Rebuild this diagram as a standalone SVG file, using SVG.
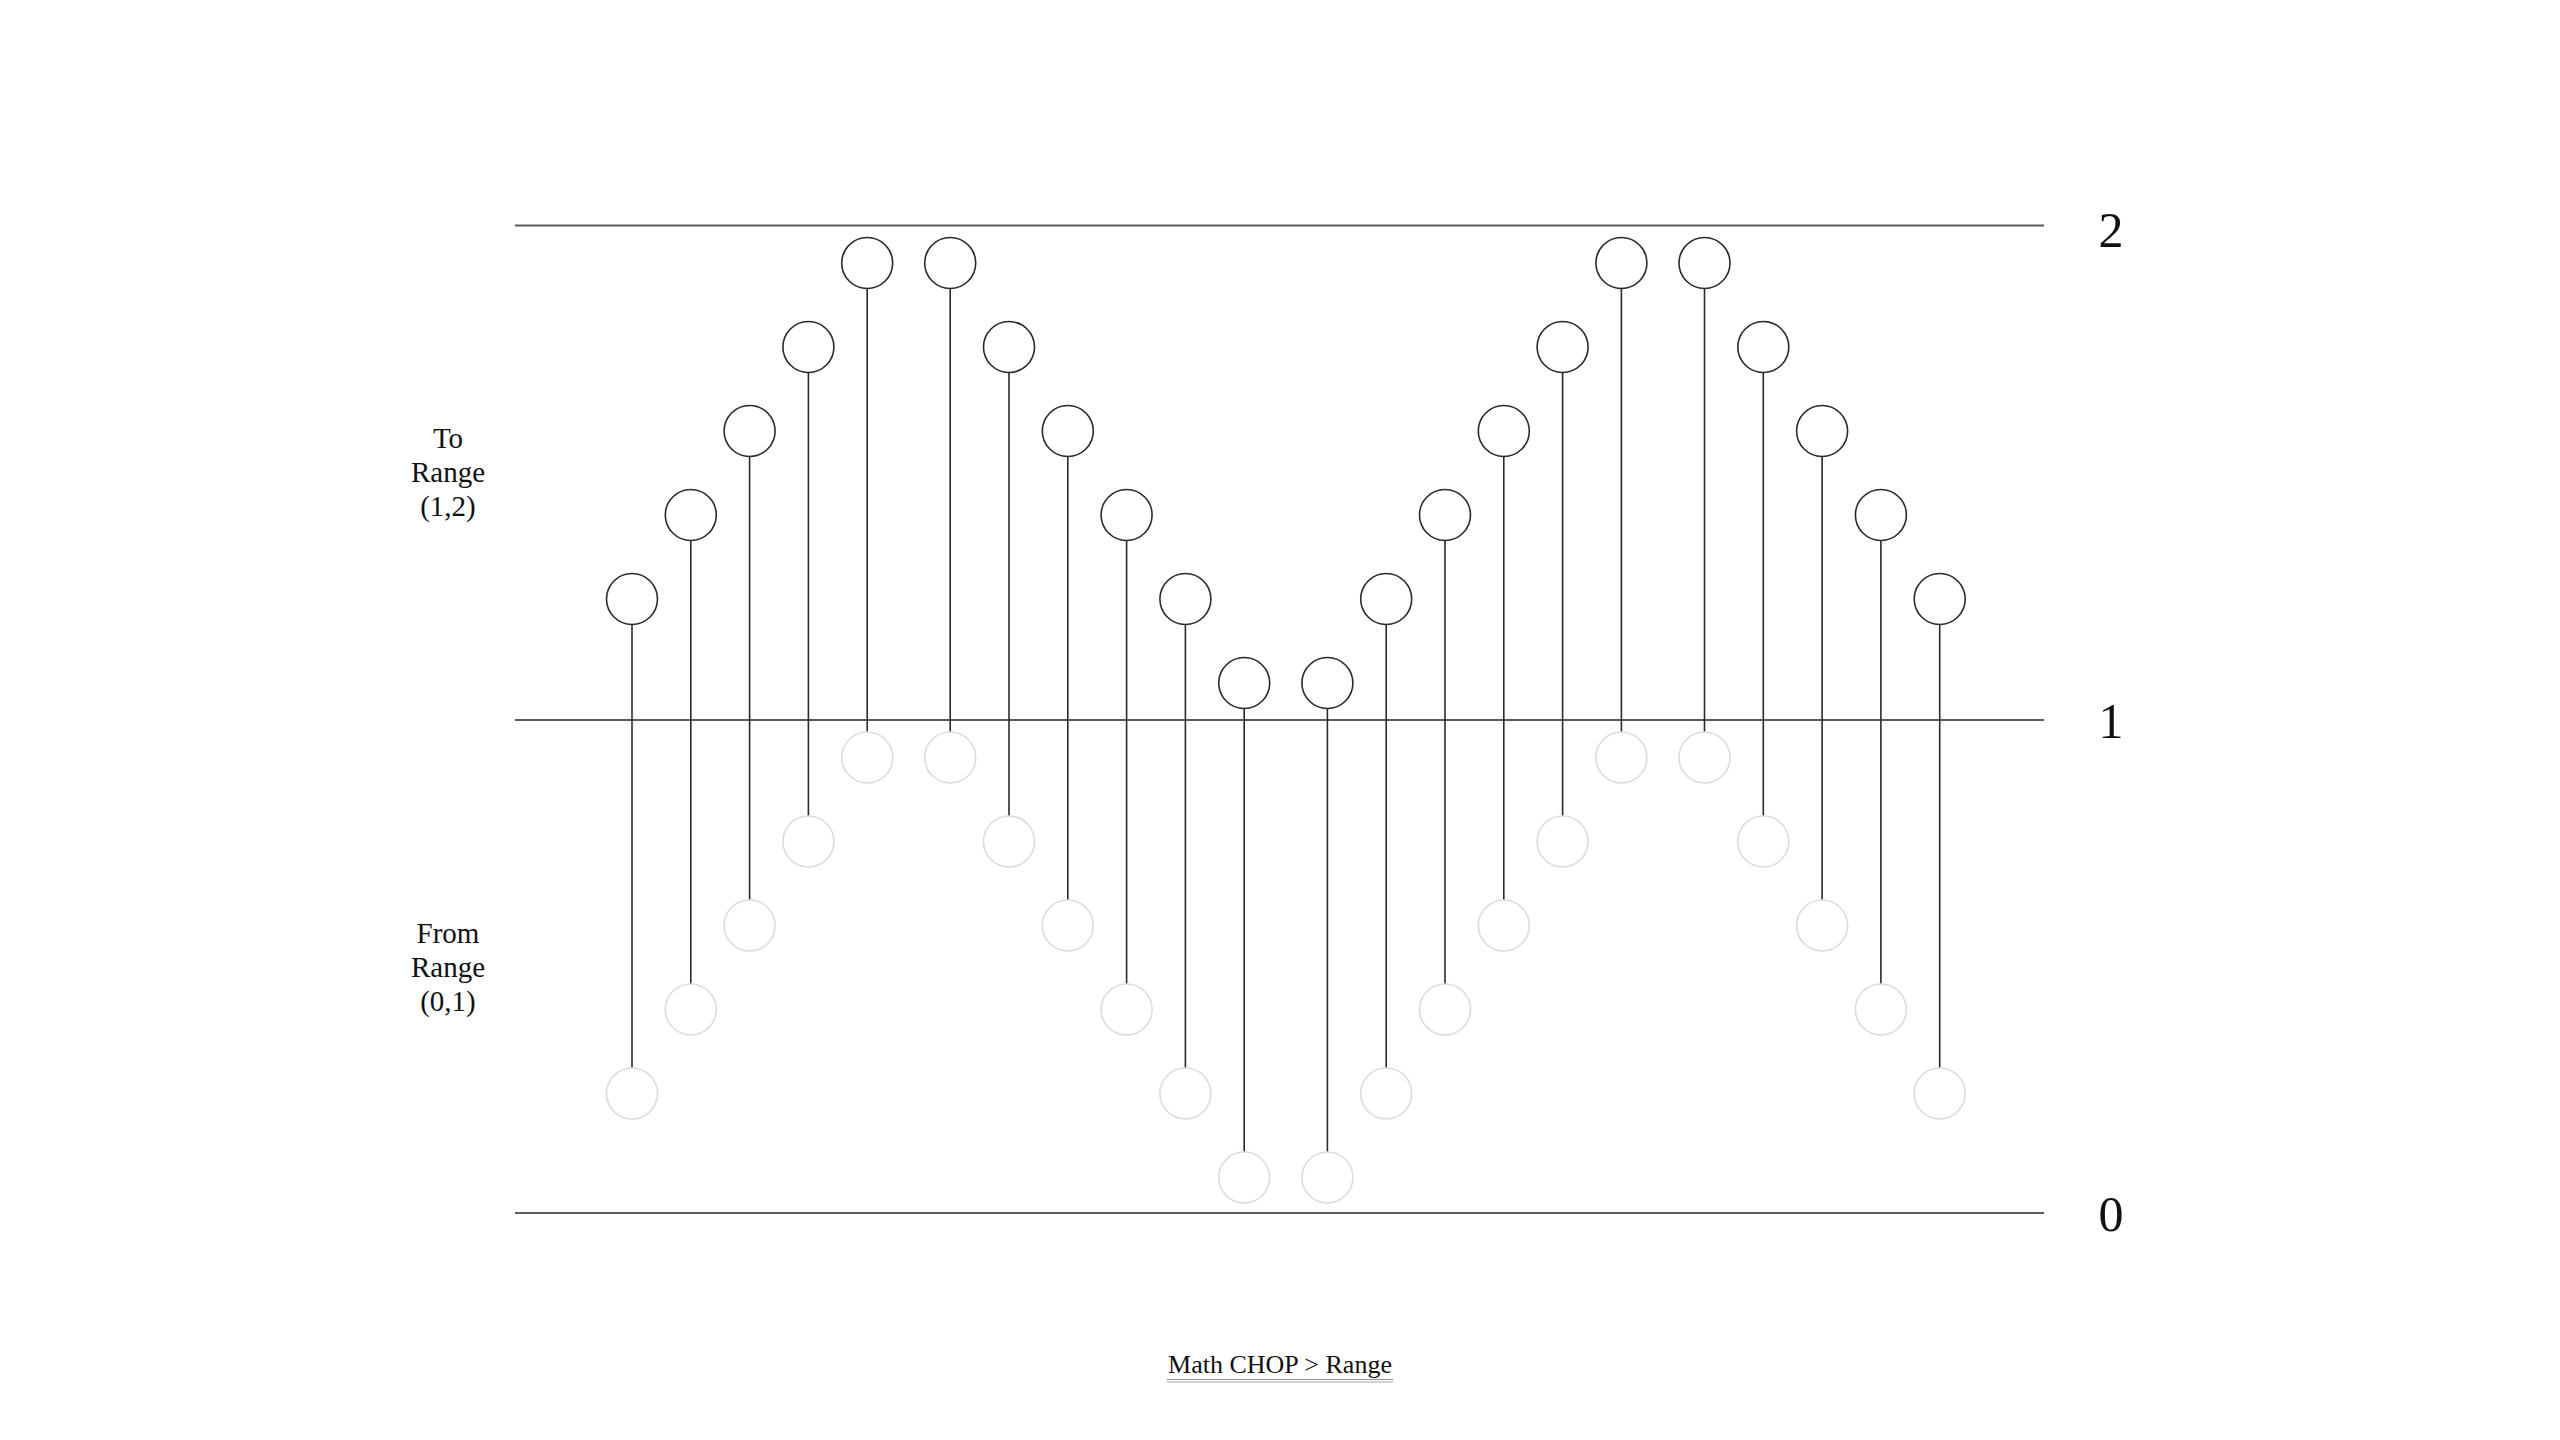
<svg xmlns="http://www.w3.org/2000/svg" width="2560" height="1440" viewBox="0 0 2560 1440">
<style>
.axis{stroke:#5a5a5a;stroke-width:2;fill:none}
.top{fill:#fff;stroke:#2a2a2a;stroke-width:1.6}
.stem{stroke:#2a2a2a;stroke-width:1.6}
.src{fill:#fff;stroke:#dcdcdc;stroke-width:1.6}
.lbl{font-family:"Liberation Serif","DejaVu Serif",serif;font-size:29px;fill:#111;text-anchor:middle}
.num{font-family:"Liberation Serif","DejaVu Serif",serif;font-size:50px;fill:#111;text-anchor:middle}
.cap{font-family:"Liberation Serif","DejaVu Serif",serif;font-size:26px;fill:#111;text-anchor:middle}
</style>
<defs>
<g id="pin">
<line class="stem" x1="0" y1="25.5" x2="0" y2="469"/>
<circle class="top" cx="0" cy="0" r="25.5"/>
<circle class="src" cx="0" cy="494.5" r="25.5"/>
</g>
</defs>
<rect width="2560" height="1440" fill="#fff"/>
<g id="axes">
<line class="axis" x1="515" y1="225.5" x2="2044" y2="225.5"/>
<line class="axis" x1="515" y1="720" x2="2044" y2="720"/>
<line class="axis" x1="515" y1="1213" x2="2044" y2="1213"/>
</g>
<g id="connectors"></g>
<g id="n1"><use href="#pin" x="632" y="599"/></g>
<g id="n2"><use href="#pin" x="690.8" y="515"/></g>
<g id="n3"><use href="#pin" x="749.6" y="431"/></g>
<g id="n4"><use href="#pin" x="808.4" y="347"/></g>
<g id="n5"><use href="#pin" x="867.2" y="263"/></g>
<g id="n6"><use href="#pin" x="950.2" y="263"/></g>
<g id="n7"><use href="#pin" x="1009" y="347"/></g>
<g id="n8"><use href="#pin" x="1067.8" y="431"/></g>
<g id="n9"><use href="#pin" x="1126.6" y="515"/></g>
<g id="n10"><use href="#pin" x="1185.4" y="599"/></g>
<g id="n11"><use href="#pin" x="1244.2" y="683"/></g>
<g id="n12"><use href="#pin" x="1327.4" y="683"/></g>
<g id="n13"><use href="#pin" x="1386.2" y="599"/></g>
<g id="n14"><use href="#pin" x="1445" y="515"/></g>
<g id="n15"><use href="#pin" x="1503.8" y="431"/></g>
<g id="n16"><use href="#pin" x="1562.6" y="347"/></g>
<g id="n17"><use href="#pin" x="1621.4" y="263"/></g>
<g id="n18"><use href="#pin" x="1704.5" y="263"/></g>
<g id="n19"><use href="#pin" x="1763.3" y="347"/></g>
<g id="n20"><use href="#pin" x="1822.1" y="431"/></g>
<g id="n21"><use href="#pin" x="1880.9" y="515"/></g>
<g id="n22"><use href="#pin" x="1939.7" y="599"/></g>
<g id="labels">
<text class="num" x="2111" y="247">2</text>
<text class="num" x="2111" y="738">1</text>
<text class="num" x="2111" y="1231">0</text>
<text class="lbl" x="448" y="448">To</text>
<text class="lbl" x="448" y="482">Range</text>
<text class="lbl" x="448" y="516">(1,2)</text>
<text class="lbl" x="448" y="943">From</text>
<text class="lbl" x="448" y="977">Range</text>
<text class="lbl" x="448" y="1011">(0,1)</text>
</g>
<g id="caption">
<text class="cap" x="1280" y="1373">Math CHOP &gt; Range</text>
<line x1="1167" y1="1379.5" x2="1393" y2="1379.5" stroke="#9a9a9a" stroke-width="1.2"/>
<line x1="1167" y1="1382" x2="1393" y2="1382" stroke="#c4c4c4" stroke-width="1.5"/>
</g>
</svg>
